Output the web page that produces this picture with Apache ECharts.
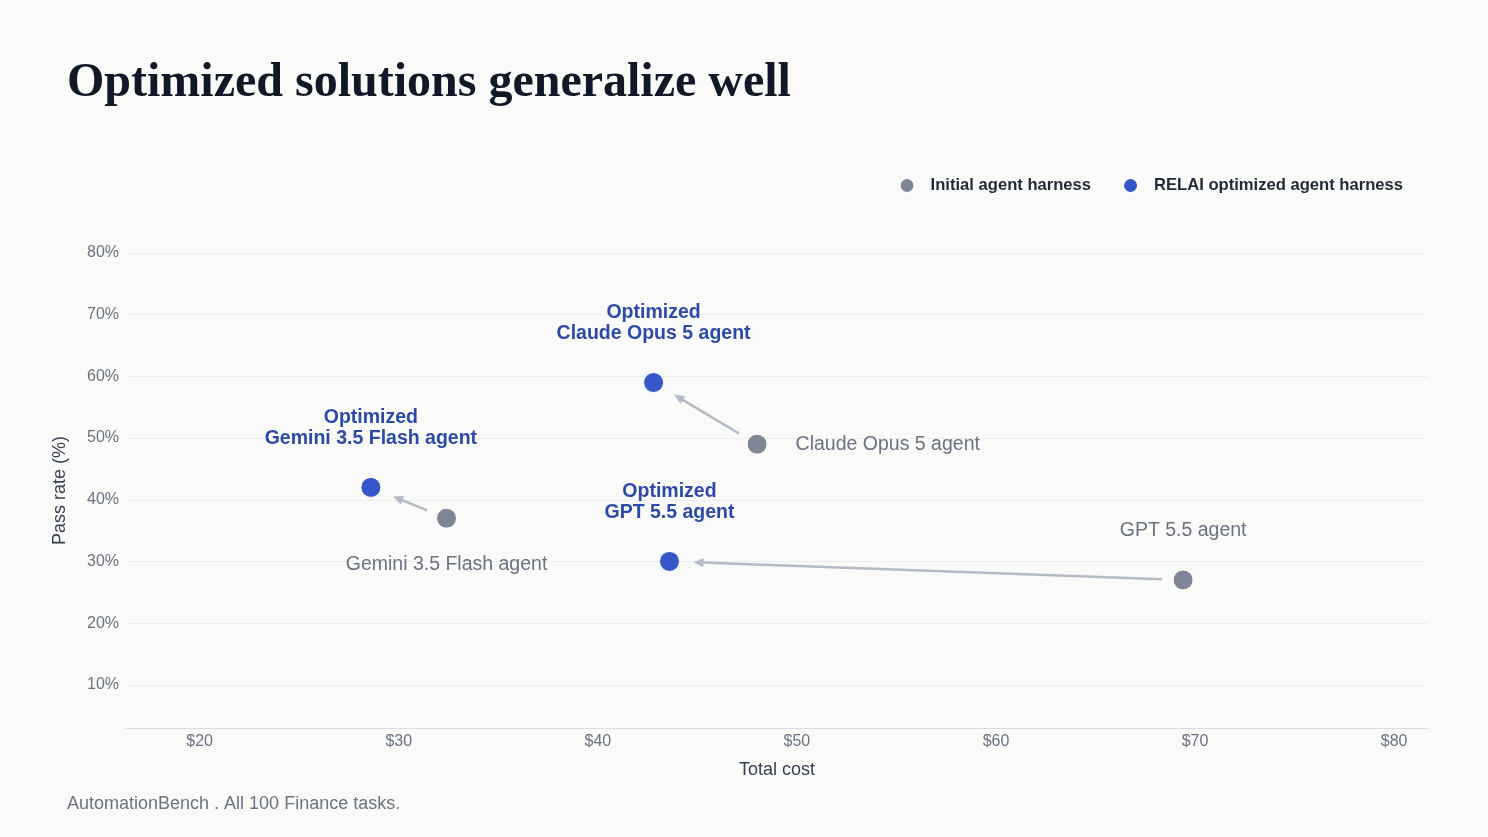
<!DOCTYPE html>
<html>
<head>
<meta charset="utf-8">
<title>Optimized solutions generalize well</title>
<script src="https://cdn.jsdelivr.net/npm/echarts@6/dist/echarts.min.js"></script>
<style>
    html, body { margin: 0; padding: 0; background: #fafaf9; }
    #cost_pass_chart { width: 1488px; height: 837px; }
</style>
</head>
<body>
<div id="cost_pass_chart"></div>
<script>
const models = ["Gemini 3.5 Flash agent", "Claude Opus 5 agent", "GPT 5.5 agent"];
const initialCost = [32.4, 48.0, 69.4];
const initialPass = [37, 49, 27];
const optimizedCost = [28.6, 42.8, 43.6];
const optimizedPass = [42, 59, 30];
const seriesNames = ["Initial agent harness", "RELAI optimized agent harness"];

const FONT = "'Liberation Sans', Arial, Helvetica, sans-serif";
const GRAY = "#7f8797";
const BLUE = "#3557c8";
const ARROW = "#b3bbc7";

// where each initial label sits relative to its dot
const initialLabelPlace = [
    { position: "bottom", distance: 26 },
    { position: "right", distance: 28 },
    { position: "top", distance: 29 }
];

document.addEventListener("DOMContentLoaded", () => {
    drawCostPassChart();
});

const arrowItem = (params, api) => {
    const p0 = api.coord([api.value(0), api.value(1)]);
    const p1 = api.coord([api.value(2), api.value(3)]);
    const dx = p1[0] - p0[0];
    const dy = p1[1] - p0[1];
    const len = Math.sqrt(dx * dx + dy * dy);
    const ux = dx / len;
    const uy = dy / len;
    const start = [p0[0] + ux * 21, p0[1] + uy * 21];
    const tip = [p1[0] - ux * 24, p1[1] - uy * 24];
    const headLen = 10;
    const headHalf = 4.5;
    const base = [tip[0] - ux * headLen, tip[1] - uy * headLen];
    return {
        type: "group",
        children: [
            {
                type: "line",
                shape: { x1: start[0], y1: start[1], x2: base[0] + ux * 2, y2: base[1] + uy * 2 },
                style: { stroke: ARROW, lineWidth: 2.5 }
            },
            {
                type: "polygon",
                shape: {
                    points: [
                        tip,
                        [base[0] - uy * headHalf, base[1] + ux * headHalf],
                        [base[0] + uy * headHalf, base[1] - ux * headHalf]
                    ]
                },
                style: { fill: ARROW }
            }
        ]
    };
};

const drawCostPassChart = () => {
    const chart = echarts.init(document.getElementById("cost_pass_chart"));

    const arrowData = models.map((m, i) => [initialCost[i], initialPass[i], optimizedCost[i], optimizedPass[i]]);

    const initialData = models.map((m, i) => ({
        value: [initialCost[i], initialPass[i]],
        label: initialLabelPlace[i]
    }));

    const optimizedData = models.map((m, i) => [optimizedCost[i], optimizedPass[i]]);

    const yGridColors = ["transparent"].concat(Array(9).fill("#eceef2"));

    const option = {
        backgroundColor: "#fafaf9",
        textStyle: { fontFamily: FONT },
        title: [
            {
                text: "Optimized solutions generalize well",
                left: 62,
                top: 55,
                textStyle: {
                    fontFamily: "'Liberation Serif', 'DejaVu Serif', serif",
                    fontWeight: "bold",
                    fontSize: 48,
                    color: "#111827"
                }
            },
            {
                text: "AutomationBench . All 100 Finance tasks.",
                left: 62,
                top: 790,
                textStyle: {
                    fontFamily: FONT,
                    fontWeight: "normal",
                    fontSize: 18,
                    color: "#6b7280"
                }
            }
        ],
        legend: {
            right: 80,
            top: 172,
            itemWidth: 15,
            itemHeight: 15,
            itemGap: 31,
            icon: "circle",
            data: seriesNames,
            textStyle: {
                fontFamily: FONT,
                fontSize: 16.6,
                fontWeight: "bold",
                color: "#1f2937",
                padding: [0, 0, 0, 11]
            }
        },
        grid: {
            left: 126,
            right: 60,
            top: 253,
            bottom: 109
        },
        xAxis: {
            type: "value",
            min: 16.3,
            max: 81.7,
            minInterval: 10,
            maxInterval: 10,
            name: "Total cost",
            nameLocation: "middle",
            nameGap: 33,
            nameTextStyle: { fontFamily: FONT, fontSize: 18, color: "#374151" },
            axisLine: { show: true, lineStyle: { color: "#d9dde3", width: 1 } },
            axisTick: { show: false },
            splitLine: { show: false },
            axisLabel: {
                margin: 6,
                fontSize: 16,
                color: "#6b7280",
                showMinLabel: false,
                showMaxLabel: false,
                formatter: (v) => "$" + v
            }
        },
        yAxis: {
            type: "value",
            min: 3,
            max: 80,
            minInterval: 10,
            maxInterval: 10,
            name: "Pass rate (%)",
            nameLocation: "middle",
            nameGap: 57,
            nameRotate: 90,
            nameTextStyle: { fontFamily: FONT, fontSize: 18, color: "#374151" },
            axisLine: { show: false },
            axisTick: { show: false },
            splitLine: { show: true, lineStyle: { color: yGridColors, width: 1 } },
            axisLabel: {
                margin: 7,
                fontSize: 16,
                color: "#6b7280",
                showMinLabel: false,
                formatter: (v) => v + "%"
            }
        },
        series: [
            {
                type: "custom",
                name: "arrows",
                z: 1,
                silent: true,
                renderItem: arrowItem,
                encode: { x: [0, 2], y: [1, 3] },
                data: arrowData
            },
            {
                type: "scatter",
                name: seriesNames[0],
                z: 3,
                symbolSize: 20,
                itemStyle: { color: GRAY, borderColor: "#ffffff", borderWidth: 1, opacity: 1 },
                label: {
                    show: true,
                    fontFamily: FONT,
                    fontSize: 19.5,
                    color: "#6b7280",
                    formatter: (p) => models[p.dataIndex]
                },
                data: initialData
            },
            {
                type: "scatter",
                name: seriesNames[1],
                z: 3,
                symbolSize: 20,
                itemStyle: { color: BLUE, borderColor: "#ffffff", borderWidth: 1, opacity: 1 },
                label: {
                    show: true,
                    position: "top",
                    distance: 28,
                    align: "center",
                    fontFamily: FONT,
                    fontSize: 19.5,
                    fontWeight: "bold",
                    lineHeight: 21,
                    color: "#2c4aa8",
                    formatter: (p) => "Optimized\n" + models[p.dataIndex]
                },
                data: optimizedData
            }
        ]
    };

    chart.setOption(option);
};
</script>
</body>
</html>
